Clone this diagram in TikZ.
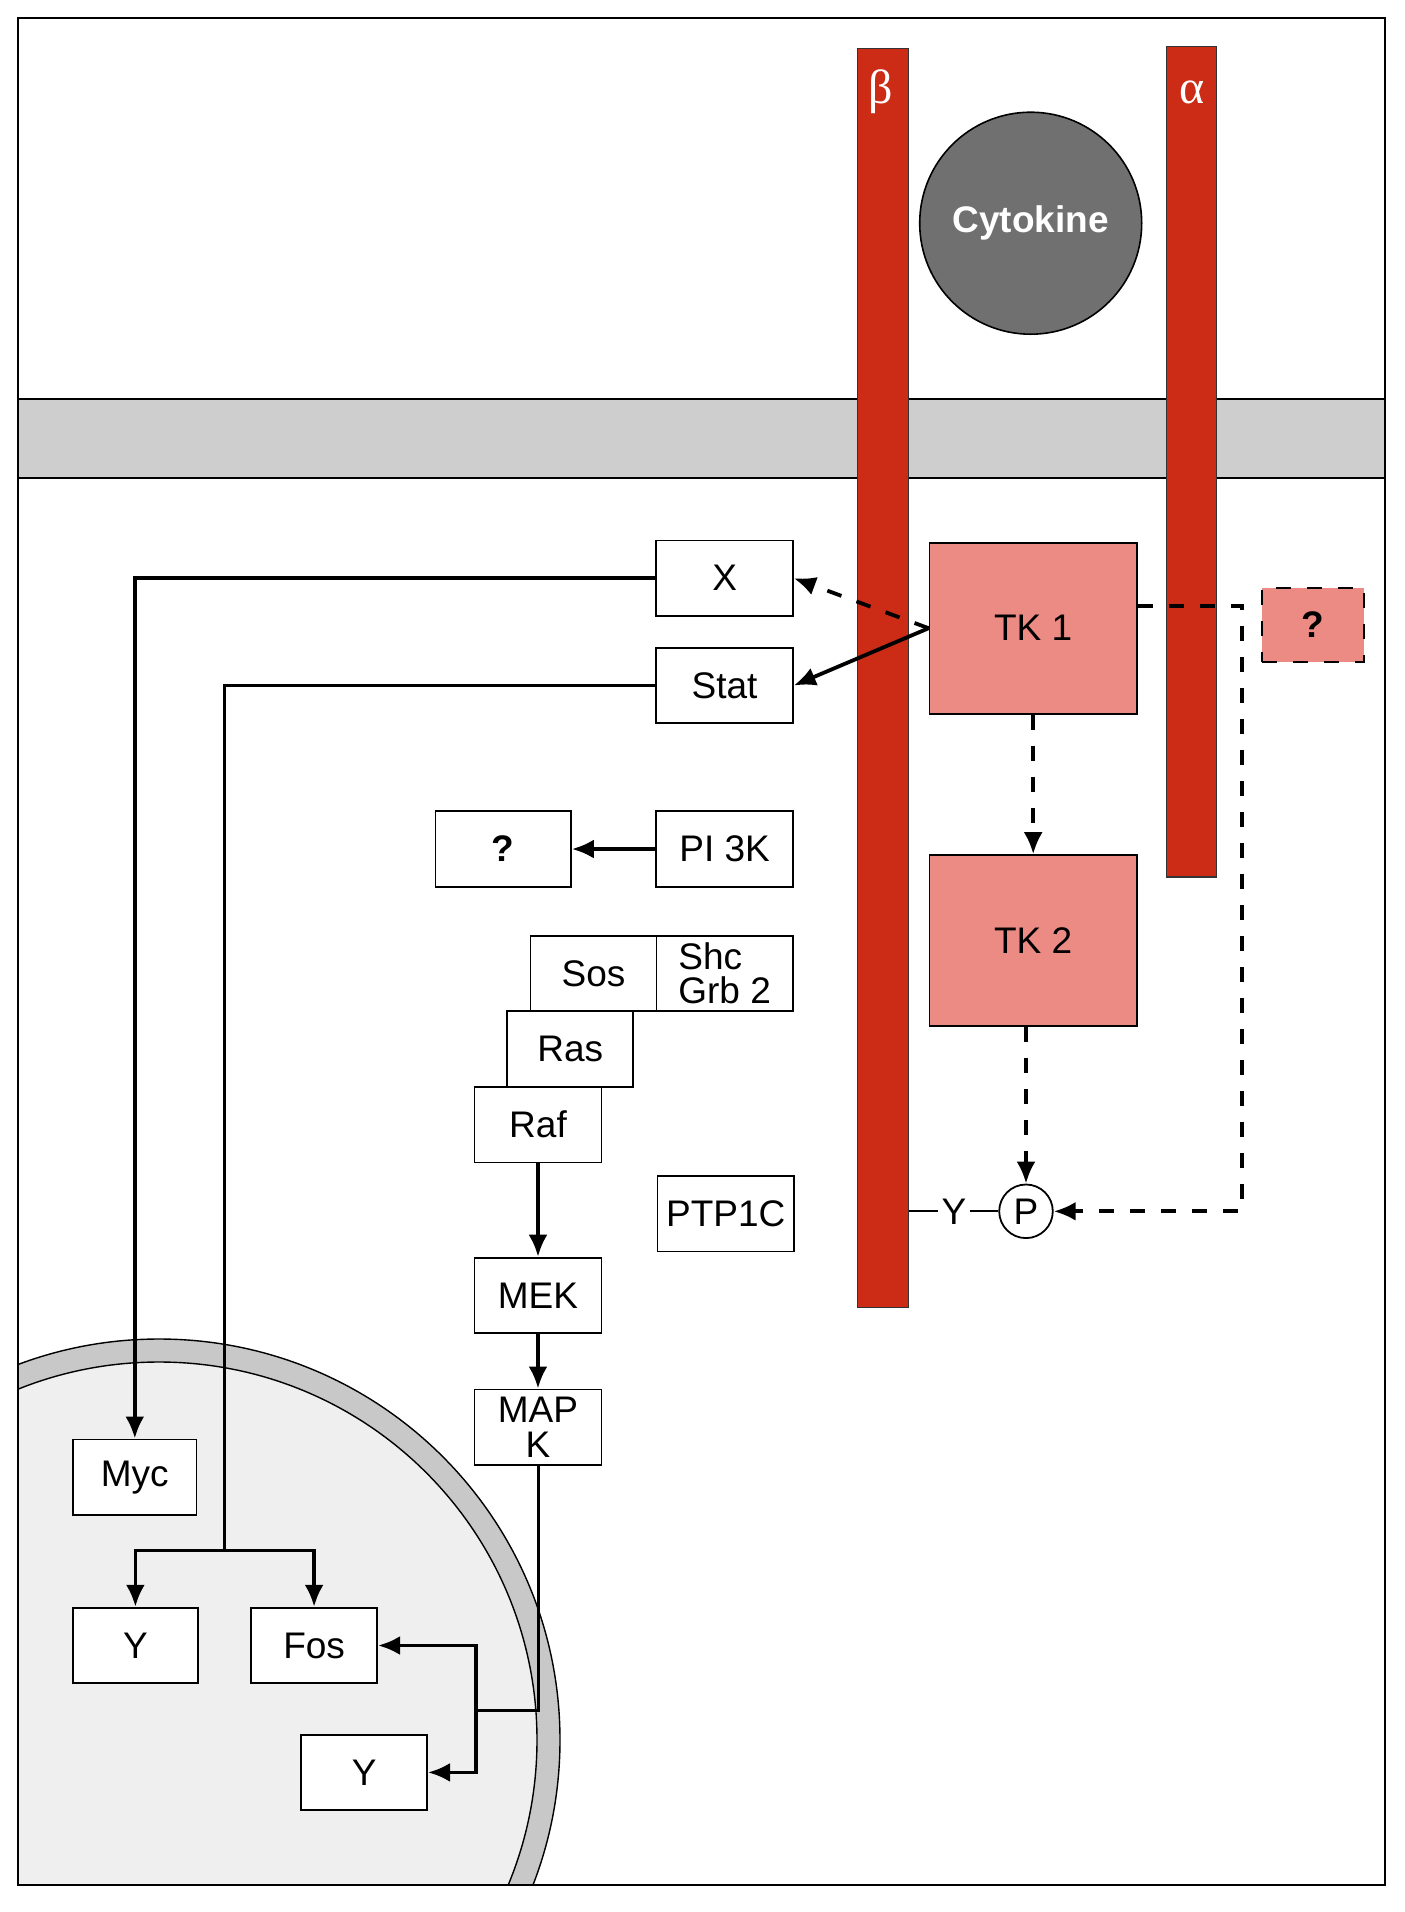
\documentclass[tikz,border=0pt]{standalone}
\usepackage{fontspec}
\setmainfont{Liberation Sans}
\newfontfamily\greekfont{Liberation Serif}
\usepackage{xcolor}
\definecolor{rcred}{RGB}{204,44,22}
\definecolor{tkpink}{RGB}{236,138,132}
\definecolor{cytogray}{RGB}{112,112,112}
\definecolor{memgray}{RGB}{206,206,206}
\definecolor{nucband}{RGB}{200,200,200}
\definecolor{nucfill}{RGB}{239,239,239}
\usepackage{tikz}
\usetikzlibrary{positioning}
\usetikzlibrary{arrows.meta}
\newcommand{\bxfont}{\fontsize{18.5}{17}\selectfont}

\tikzset{
  >={Latex[length=11pt,width=9.5pt]},
  box/.style={draw,fill=white,line width=0.9pt,minimum width=63pt,minimum height=37.8pt,inner sep=0pt,font=\bxfont,align=center},
  widebox/.style={box,minimum width=68.3pt},
  kinase/.style={box,fill=tkpink,minimum width=103.7pt,minimum height=85.4pt},
  rcbar/.style={draw=black!80,fill=rcred,line width=0.6pt,minimum width=25.6pt,inner sep=0pt},
  greek/.style={text=white,font=\greekfont\fontsize{24}{24}\selectfont},
  link/.style={line width=1.9pt},
  dashlink/.style={line width=1.9pt,dash pattern=on 7.5pt off 8pt},
}

\begin{document}
\begin{tikzpicture}[x=0.5pt,y=-0.5pt]
\useasboundingbox (0,0) rectangle (1404,1912);
\fill[white] (0,0) rectangle (1404,1912);

% membrane
\fill[memgray] (18,399) rectangle (1385,478);
\draw[line width=0.7pt] (18,399) -- (1385,399) (18,478) -- (1385,478);

% nucleus
\begin{scope}
\clip (18,18) rectangle (1385,1885);
\filldraw[fill=nucband,line width=0.7pt] (159,1740) circle[radius=401];
\filldraw[fill=nucfill,line width=0.7pt] (159,1740) circle[radius=378];
\end{scope}
\draw[line width=0.8pt] (18,18) rectangle (1385,1885);

% receptor chains
\node (beta) at (883.2,678.2) [rcbar,minimum height=629.4pt]{};
\node (alpha) at (1191.1,461.7) [rcbar,minimum width=25pt,minimum height=415.3pt]{};
\node (betalbl) at (881,92) [greek]{β};
\node (alphalbl) at (1192,92) [greek]{α};
\node (cyto) at (1030.7,223.2) [circle,draw,line width=0.8pt,fill=cytogray,minimum size=111pt,text=white,font=\bxfont\bfseries]{Cytokine};

% kinases
\node (TK1) at (1033.2,628.2) [kinase]{TK 1};
\node (TK2) at (1033.2,940.5) [kinase]{TK 2};
\node (qkin) at (1313,625) [box,fill=tkpink,dashlink,line width=1pt,minimum width=50.6pt,minimum height=37.2pt,font=\bxfont\bfseries]{?};

% adaptor and signalling boxes
\node (X) at (724.6,578.2) [widebox]{X};
\node (Stat) at (724.6,685.5) [widebox]{Stat};
\node (PI3K) at (724.6,849) [widebox]{PI 3K};
\node (qbox) at (503.2,849) [box,minimum width=67.7pt,font=\bxfont\bfseries]{?};
\node (Shc) at (724.6,973.4) [widebox,align=left]{Shc\\Grb 2};
\node (Sos) at (593.5,973.4) [box]{Sos};
\node (Ras) at (570.3,1049) [box]{Ras};
\node (Raf) at (538,1124.7) [box,minimum width=63.5pt]{Raf};
\node (PTP) at (725.8,1213.7) [widebox]{PTP1C};
\node (MEK) at (538,1295.4) [box,minimum width=63.5pt]{MEK};
\node (MAPK) at (538,1427.2) [box,minimum width=63.5pt,font=\fontsize{18.5}{17.5}\selectfont]{MAP\\K};

% nuclear targets
\node (Myc) at (134.8,1477.2) [box,minimum width=61.6pt]{Myc};
\node (Y1) at (135.4,1645.5) [box,minimum width=62.2pt]{Y};
\node (Fos) at (314.1,1645.5) [box]{Fos};
\node (Y2) at (364.1,1772.4) [box]{Y};

% phosphotyrosine
\node (Ysite) at (953.9,1211.3) [inner sep=1.5pt,font=\bxfont]{Y};
\node (P) at (1026,1211.3) [circle,draw,fill=white,line width=0.9pt,minimum size=26.8pt,inner sep=0pt,font=\bxfont]{P};
\draw[line width=1pt] (beta.east |- Ysite) -- (Ysite);
\draw[line width=1pt] (Ysite) -- (P);

% connectors
\coordinate (statfork) at (224.4,1550.4);
\coordinate (mapfork) at (475.7,1710.2);
\coordinate (qturn) at (1241.7,1211.3);
\draw[dashlink,->] (TK1.west) -- (X.east);
\draw[link,->] (TK1.west) -- (Stat.east);
\draw[dashlink,->] (TK1.south) -- (TK2.north);
\draw[dashlink,->] (TK2.south -| P.north) -- (P.north);
\draw[dashlink,->] (TK1.12) -| (qturn) -- (P.east);
\draw[link,->] (PI3K) -- (qbox);
\draw[link,->] (Raf) -- (MEK);
\draw[link,->] (MEK) -- (MAPK);
\draw[link,->] (X.west) -| (Myc.north);
\draw[link] (Stat.west) -| (statfork);
\draw[link,->] (statfork) -| (Y1.north);
\draw[link,->] (statfork) -| (Fos.north);
\draw[line width=1.5pt] (MAPK.south) |- (mapfork);
\draw[link,->] (mapfork) |- (Fos.east);
\draw[link,->] (mapfork) |- (Y2.east);
\end{tikzpicture}
\end{document}
